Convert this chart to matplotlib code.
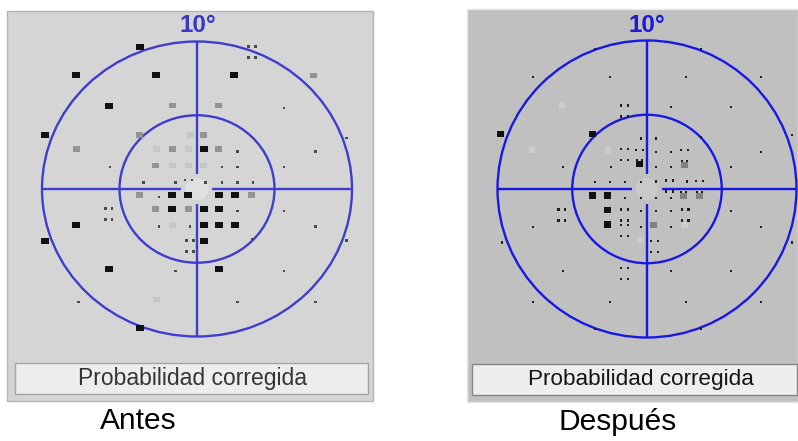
import matplotlib.pyplot as plt
from matplotlib.patches import Rectangle, Circle

W, H = 798, 441

# ---- Antes: posiciones de los puntos (grados) por tipo de símbolo ----
antes_negro = [(-3.7, 9.65), (-7.8, 7.7), (-2.65, 7.7), (2.4, 7.7), (-5.7, 5.65), (-9.8, 3.65),
               (0.45, 2.7), (-1.6, -0.4), (-0.55, -0.4), (1.4, -0.4), (2.45, -0.4),
               (-1.6, -1.35), (0.45, -1.35), (1.4, -1.35), (-7.8, -2.45), (0.45, -2.45),
               (1.4, -2.45), (2.45, -2.45), (-9.8, -3.55), (0.45, -3.5), (-5.7, -5.4),
               (1.4, -5.4), (-3.7, -9.45)]
antes_gris = [(7.5, 7.7), (-1.6, 5.65), (1.4, 5.65), (-3.7, 3.65), (0.4, 3.65), (-7.8, 2.7),
              (-1.6, 2.7), (1.4, 2.7), (-2.65, 1.6), (-3.7, -0.4), (3.5, -0.4),
              (-2.65, -1.35), (-0.55, -1.35)]
antes_tenue = [(-0.45, 3.65), (-2.6, 2.7), (-0.55, 2.7), (-1.6, 1.6), (-0.55, 1.6), (0.45, 1.6),
               (-1.6, -2.45), (-2.6, -7.5)]
antes_punto = [(9.65, 3.45), (9.65, -3.5), (5.6, 5.5), (3.6, 3.45), (2.6, 2.55), (7.65, 2.55),
               (-5.6, 1.5), (1.6, 1.5), (2.6, 1.5), (5.6, 1.5), (-3.45, 0.45), (-1.4, 0.45),
               (0.55, 0.45), (1.6, 0.45), (2.6, 0.45), (3.6, 0.45), (-2.45, -0.55), (2.6, -1.5),
               (5.6, -1.5), (-2.45, -2.55), (-0.45, -2.55), (7.65, -2.55), (3.55, -3.4),
               (-1.4, -5.55), (5.6, -5.55), (-7.65, -7.65), (2.6, -7.65), (7.65, -7.65)]
antes_cuatro = [(3.55, 9.3), (-5.7, -1.7), (-0.45, -3.85)]
antes_par = [(-0.55, 0.6)]

# ---- Después ----
despues_negro = [(-9.8, 3.7), (-3.65, 3.7), (-3.65, -0.45), (-2.65, -0.45), (-2.65, -1.4),
                 (-2.65, -2.4)]
despues_negro_muesca = [(-0.5, 1.7)]
despues_gris = [(0.45, -2.4)]
despues_gris_muesca = [(2.5, 1.6), (2.45, -0.45), (3.5, -0.45)]
despues_tenue = [(-7.7, 2.65), (-5.7, 5.65), (-2.6, 2.65), (-0.45, -3.45), (2.5, -2.4)]
despues_cuatro = [(-1.5, 5.25), (-1.5, 2.3), (1.5, 0.2), (-5.7, -1.75), (-1.5, -1.75),
                  (2.55, -1.75), (-1.5, -2.8), (-1.5, -5.7), (0.5, -3.85)]
despues_par = [(-0.5, 2.65), (2.5, 2.65), (3.5, 0.55)]
despues_punto = [(-7.6, 7.55), (-2.45, 7.55), (2.6, 7.55), (7.65, 7.55), (1.6, 5.5), (5.6, 5.5),
                 (-0.4, 3.4), (0.6, 3.4), (3.6, 3.5), (-3.5, 9.45), (3.6, 9.45), (-3.5, -9.45),
                 (3.6, -9.45), (-9.7, -3.6), (9.7, -3.6), (9.7, 3.65), (0.6, 2.5), (1.6, 2.5),
                 (7.65, 2.5), (-5.6, 1.5), (-2.4, 1.5), (0.6, 1.5), (1.6, 1.5), (5.6, 1.5),
                 (-3.5, 0.45), (-2.45, 0.45), (-1.45, 0.45), (-0.4, 0.45), (0.6, 0.5), (2.65, 0.5),
                 (-1.45, -0.6), (-0.4, -0.6), (0.6, -0.6), (1.6, -0.6), (-0.4, -1.5), (0.6, -1.5),
                 (1.6, -1.5), (5.6, -1.5), (-7.6, -2.55), (-0.4, -2.55), (1.6, -2.55),
                 (7.65, -2.55), (-5.6, -5.5), (1.6, -5.5), (5.6, -5.5), (-7.6, -7.6),
                 (-2.45, -7.6), (2.6, -7.6), (7.65, -7.6)]

radios = [10, 5]
etiqueta_grado = "10°"
titulo_caja = "Probabilidad corregida"


def fig_rect(fig, x0, y0, x1, y1, **kw):
    fig.add_artist(Rectangle((x0 / W, 1 - y1 / H), (x1 - x0) / W, (y1 - y0) / H,
                             transform=fig.transFigure, zorder=-5, **kw))


def cuadros(ax, pts, w, h, sx, sy, color, z=5):
    # w, h en pixeles
    for x, y in pts:
        ax.add_patch(Rectangle((x - w / 2 / sx, y - h / 2 / sy), w / sx, h / sy,
                               facecolor=color, edgecolor='none', zorder=z))


def panel(fig, caja, centro, escala, fondo, azul, sim, tam):
    x0, y0, x1, y1 = caja
    cx, cy = centro
    sx, sy = escala
    ax = fig.add_axes([x0 / W, 1 - y1 / H, (x1 - x0) / W, (y1 - y0) / H])
    ax.set_xlim((x0 - cx) / sx, (x1 - cx) / sx)
    ax.set_ylim((cy - y1) / sy, (cy - y0) / sy)
    ax.axis('off')

    # zona clara alrededor de la fijación
    ax.add_patch(Circle((0, 0), 0.75, facecolor=fondo, edgecolor='none', zorder=1))
    for r in radios:
        ax.add_patch(Circle((0, 0), r, fill=False, edgecolor=azul, lw=1.7, zorder=3))
    hueco = 1.0
    ax.plot([-10, -hueco], [0, 0], color=azul, lw=1.7, zorder=3, solid_capstyle='butt')
    ax.plot([hueco, 10], [0, 0], color=azul, lw=1.7, zorder=3, solid_capstyle='butt')
    ax.plot([0, 0], [-10, -hueco], color=azul, lw=1.7, zorder=3, solid_capstyle='butt')
    ax.plot([0, 0], [hueco, 10], color=azul, lw=1.7, zorder=3, solid_capstyle='butt')

    bw, bh, gw, gh, pd = tam
    cuadros(ax, sim['tenue'], gw, gh, sx, sy, sim['c_tenue'])
    cuadros(ax, sim['gris'], gw, gh, sx, sy, sim['c_gris'])
    cuadros(ax, sim['negro'], bw, bh, sx, sy, '#111111')
    cuadros(ax, sim['punto'], pd, pd, sx, sy, sim['c_punto'])
    for x, y in sim['cuatro']:
        for dx in (-3.3, 3.3):
            for dy in (-5.5, 5.5):
                cuadros(ax, [(x + dx / sx, y + dy / sy)], pd, pd, sx, sy, sim['c_punto'])
    for x, y in sim['par']:
        for dx in (-3.3, 3.3):
            cuadros(ax, [(x + dx / sx, y)], pd, pd, sx, sy, sim['c_punto'])
    for clave, col in (('negro_muesca', '#111111'), ('gris_muesca', sim['c_gris'])):
        cuadros(ax, sim.get(clave, []), gw, gh, sx, sy, col)
        for x, y in sim.get(clave, []):
            for dx in (-2.5, 2.5):
                cuadros(ax, [(x + dx / sx, y + (gh / 2 + 1) / sy)], 2, 2, sx, sy, '#202020', z=6)
    return ax


fig = plt.figure(figsize=(W / 100, H / 100), dpi=100)
fig.patch.set_facecolor('white')
plt.rcParams['font.family'] = ['Liberation Sans', 'DejaVu Sans']

# fondos de los paneles
fig_rect(fig, 7, 11, 373, 401, facecolor='#d5d5d5', edgecolor='#b5b5b5', lw=1)
fig_rect(fig, 15, 363, 368, 394, facecolor='#ededed', edgecolor='#a5a5a5', lw=1)
fig_rect(fig, 467, 9, 798, 402, facecolor='#c0c0c0', edgecolor='#e8e8e8', lw=1)
fig_rect(fig, 472, 364, 797, 395, facecolor='#eeeeee', edgecolor='#858585', lw=1)

sim_antes = dict(negro=antes_negro, gris=antes_gris, tenue=antes_tenue, punto=antes_punto,
                 cuatro=antes_cuatro, par=antes_par,
                 c_gris='#939393', c_tenue='#c6c6c6', c_punto='#4a4a4a')
sim_despues = dict(negro=despues_negro, gris=despues_gris, tenue=despues_tenue,
                   punto=despues_punto, cuatro=despues_cuatro, par=despues_par,
                   negro_muesca=despues_negro_muesca, gris_muesca=despues_gris_muesca,
                   c_gris='#808080', c_tenue='#cdcdcd', c_punto='#1e1e1e')

panel(fig, (7, 11, 373, 362), (197, 189), (15.5, 14.75), '#e0e0e0', '#3d3dcf',
      sim_antes, (8, 6, 7, 5.5, 2.5))
panel(fig, (467, 9, 798, 362), (647, 189), (14.95, 14.85), '#c9c9c9', '#1818e6',
      sim_despues, (7.5, 6.5, 6.5, 6, 2.2))

# textos
fig.text(198 / W, 1 - 25 / H, etiqueta_grado, color='#3838c8', fontsize=17.5,
         fontweight='bold', ha='center', va='center')
fig.text(647 / W, 1 - 25 / H, etiqueta_grado, color='#1a1ad8', fontsize=17.5,
         fontweight='bold', ha='center', va='center')
fig.text(192 / W, 1 - 379 / H, titulo_caja, color='#353535', fontsize=16.5,
         ha='center', va='center')
fig.text(641 / W, 1 - 380 / H, titulo_caja, color='#151515', fontsize=16.2,
         ha='center', va='center')
fig.text(138 / W, 1 - 421 / H, "Antes", color='black', fontsize=21.5,
         ha='center', va='center')
fig.text(618 / W, 1 - 422 / H, "Después", color='black', fontsize=21.5,
         ha='center', va='center')

plt.savefig('out.png', dpi=100)
